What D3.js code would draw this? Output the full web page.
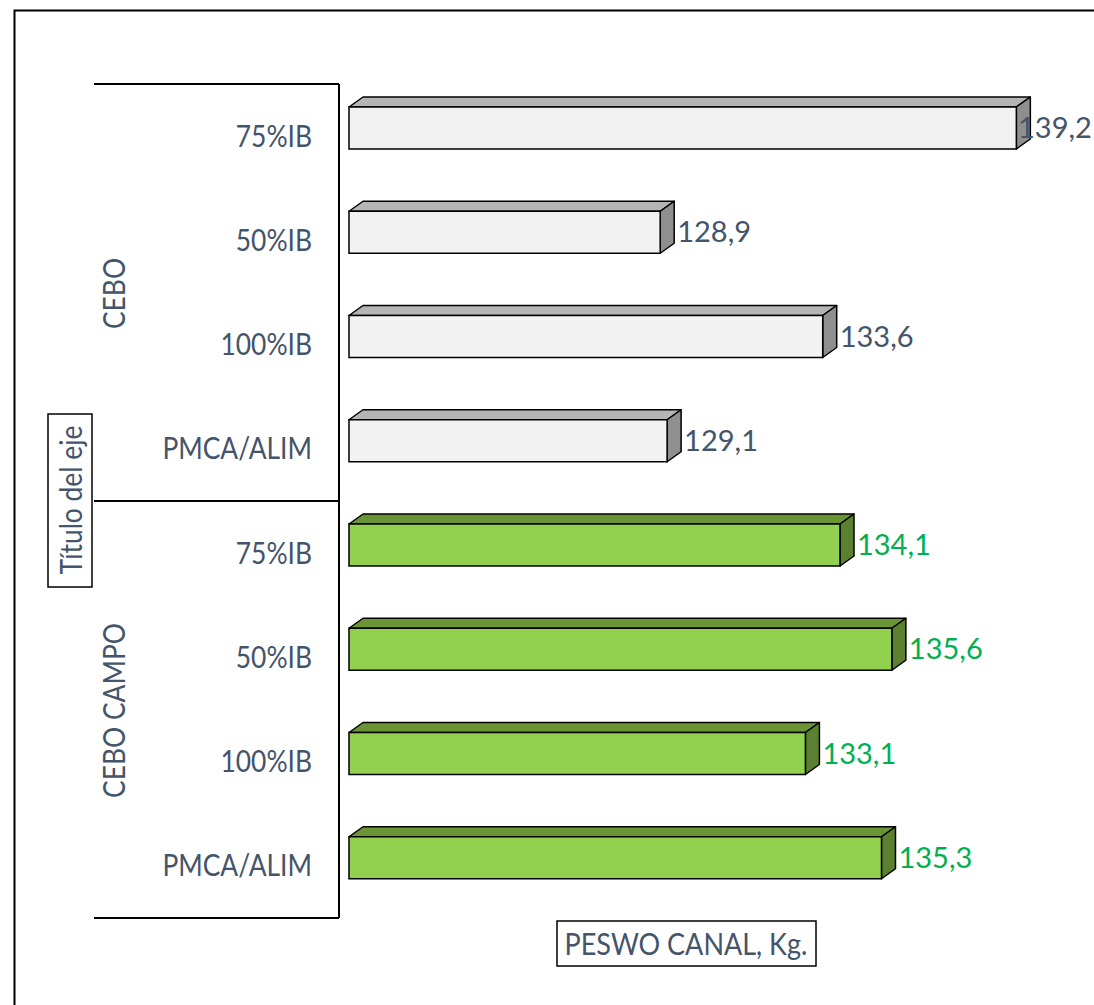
<!DOCTYPE html>
<html>
<head>
<meta charset="utf-8">
<script src="https://cdn.jsdelivr.net/npm/d3@7"></script>
<style>
  body { margin: 0; background: #fff; }
  svg { display: block; }
</style>
</head>
<body>
<svg id="chart" width="1094" height="1005"></svg>
<script>
// chart data
const groups = ["CEBO", "CEBO CAMPO"];
const categories = ["75%IB", "50%IB", "100%IB", "PMCA/ALIM"];
const ceboValues = [139.2, 128.9, 133.6, 129.1];
const campoValues = [134.1, 135.6, 133.1, 135.3];
const valueLabels = ["139,2", "128,9", "133,6", "129,1", "134,1", "135,6", "133,1", "135,3"];

const width = 1094;
const height = 1005;
const textColor = "#44546a";
const font = "Lato, 'Open Sans', sans-serif";
const squeeze = 0.88; // reference font is narrower than Lato

// colours per group: front, top, side, label
const palette = {
    "CEBO": { front: "#f2f2f2", top: "#b5b5b5", side: "#8f8f8f", label: "#44546a" },
    "CEBO CAMPO": { front: "#92d050", top: "#6b9535", side: "#5a8030", label: "#00b050" }
};

// flatten rows (group, category, value)
const rows = [];
groups.forEach((g, gi) => {
    const vals = gi === 0 ? ceboValues : campoValues;
    categories.forEach((c, ci) => {
        rows.push({ group: g, cat: c, value: vals[ci], key: g + "|" + c });
    });
});
rows.forEach((d, i) => d.label = valueLabels[i]);

const svg = d3.select("#chart");

// outer chart frame
svg.append("rect")
    .attr("x", 14.5).attr("y", 10.5)
    .attr("width", 1200).attr("height", 1100)
    .attr("fill", "#fff")
    .attr("stroke", "#000").attr("stroke-width", 2);

const plotTop = 84, plotBottom = 918;
const axisX = 339;
const depthX = 14, depthY = 10;

const y = d3.scaleBand()
    .domain(rows.map(d => d.key))
    .range([plotTop, plotBottom]);

const xMin = 119.9;
const x = d3.scaleLinear()
    .domain([xMin, 140])
    .range([349, 1044]);

const barH = 42;
const barOffset = 23;

// bars
const bars = svg.append("g").attr("class", "bars")
    .selectAll("g")
    .data(rows)
    .enter().append("g");

bars.append("path") // top face
    .attr("d", d => {
        const x0 = x(xMin), x1 = x(d.value), y0 = y(d.key) + barOffset;
        return `M${x0},${y0}L${x0 + depthX},${y0 - depthY}L${x1 + depthX},${y0 - depthY}L${x1},${y0}Z`;
    })
    .attr("fill", d => palette[d.group].top)
    .attr("stroke", "#000").attr("stroke-width", 1.5).attr("stroke-linejoin", "round");

bars.append("path") // side face
    .attr("d", d => {
        const x1 = x(d.value), y0 = y(d.key) + barOffset;
        return `M${x1},${y0}L${x1 + depthX},${y0 - depthY}L${x1 + depthX},${y0 + barH - depthY}L${x1},${y0 + barH}Z`;
    })
    .attr("fill", d => palette[d.group].side)
    .attr("stroke", "#000").attr("stroke-width", 1.5).attr("stroke-linejoin", "round");

bars.append("rect") // front face
    .attr("x", x(xMin))
    .attr("y", d => y(d.key) + barOffset)
    .attr("width", d => x(d.value) - x(xMin))
    .attr("height", barH)
    .attr("fill", d => palette[d.group].front)
    .attr("stroke", "#000").attr("stroke-width", 1.5);

// value labels (pulled back inside the frame when they would overflow)
bars.append("text")
    .attr("x", d => {
        const lx = x(d.value) + depthX + 3;
        return lx + 70 > width ? width - 76 : lx;
    })
    .attr("y", d => y(d.key) + barOffset + barH / 2)
    .attr("dy", "0.35em")
    .text(d => d.label)
    .attr("font-family", font)
    .attr("font-size", "29px")
    .attr("fill", d => palette[d.group].label);

// category axis lines
const axis = svg.append("g").attr("class", "cat-axis")
    .attr("stroke", "#000").attr("stroke-width", 2).attr("fill", "none");
axis.append("line").attr("x1", axisX).attr("x2", axisX).attr("y1", plotTop).attr("y2", plotBottom);
[plotTop, (plotTop + plotBottom) / 2, plotBottom].forEach(v => {
    axis.append("line").attr("x1", 94).attr("x2", axisX).attr("y1", v).attr("y2", v);
});

// category labels
svg.append("g")
    .selectAll("text")
    .data(rows)
    .enter().append("text")
    .attr("transform", d => `translate(312,${y(d.key) + y.bandwidth() / 2}) scale(${squeeze},1)`)
    .attr("dy", "0.35em")
    .attr("text-anchor", "end")
    .text(d => d.cat)
    .attr("font-family", font)
    .attr("font-size", "30px")
    .attr("fill", textColor);

// group labels (rotated)
const groupH = (plotBottom - plotTop) / groups.length;
svg.append("g")
    .selectAll("text")
    .data(groups)
    .enter().append("text")
    .attr("transform", (d, i) => `translate(114,${plotTop + groupH * i + groupH / 2 + 1}) rotate(-90) scale(${squeeze},1)`)
    .attr("dy", "0.35em")
    .attr("text-anchor", "middle")
    .text(d => d)
    .attr("font-family", font)
    .attr("font-size", "30px")
    .attr("fill", textColor);

// axis title boxes
svg.append("rect")
    .attr("x", 48).attr("y", 414).attr("width", 44).attr("height", 173)
    .attr("fill", "#fff").attr("stroke", "#000").attr("stroke-width", 1.5);
svg.append("text")
    .attr("transform", `translate(71,500) rotate(-90) scale(${squeeze},1)`)
    .attr("dy", "0.35em")
    .attr("text-anchor", "middle")
    .text("Título del eje")
    .attr("font-family", font)
    .attr("font-size", "30px")
    .attr("fill", textColor);

svg.append("rect")
    .attr("x", 557).attr("y", 921).attr("width", 259).attr("height", 45)
    .attr("fill", "#fff").attr("stroke", "#000").attr("stroke-width", 1.5);
svg.append("text")
    .attr("transform", `translate(686,944) scale(${squeeze + 0.02},1)`)
    .attr("dy", "0.35em")
    .attr("text-anchor", "middle")
    .text("PESWO CANAL, Kg.")
    .attr("font-family", font)
    .attr("font-size", "30px")
    .attr("fill", textColor);
</script>
</body>
</html>
